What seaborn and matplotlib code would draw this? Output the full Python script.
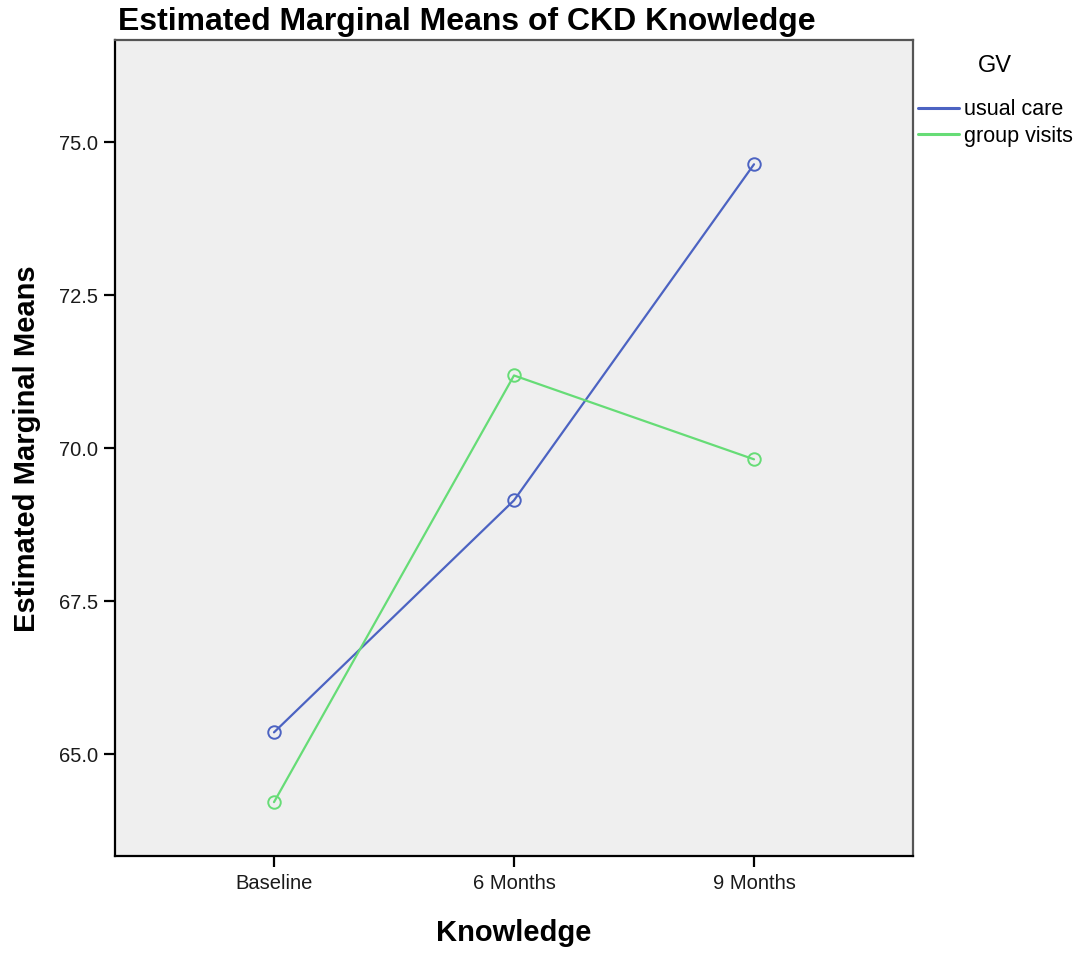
import pandas as pd
import matplotlib.pyplot as plt
import seaborn as sns
from matplotlib.lines import Line2D

# --- données ---
temps = ['Baseline', '6 Months', '9 Months']
groupes = ['usual care', 'group visits']
usual_care = [65.36, 69.15, 74.64]
group_visits = [64.22, 71.19, 69.82]
couleurs = ['#4c63c2', '#66dc76']

df = pd.DataFrame({
    'Knowledge': temps * 2,
    'Mean': usual_care + group_visits,
    'GV': [groupes[0]] * 3 + [groupes[1]] * 3,
})

sns.set_theme(style='white')
plt.rcParams['font.family'] = ['Liberation Sans', 'DejaVu Sans']
plt.rcParams['text.color'] = 'black'

W, H = 1081, 955
fig = plt.figure(figsize=(W / 100, H / 100), dpi=100)
ax = fig.add_axes([115 / W, 1 - 856 / H, (913 - 115) / W, (856 - 40) / H])
ax.set_facecolor('#efefef')

sns.lineplot(data=df, x='Knowledge', y='Mean', hue='GV', hue_order=groupes,
             palette=couleurs, sort=False, marker='o', markersize=9,
             linewidth=1.6, legend=False, ax=ax)

# cercles vides comme dans SPSS
for line in ax.lines:
    line.set_markerfacecolor('none')
    line.set_markeredgecolor(line.get_color())
    line.set_markeredgewidth(1.4)

ax.set_xlim(-0.6625, 2.6625)
ax.set_ylim(63.34, 76.67)
ax.set_yticks([65.0, 67.5, 70.0, 72.5, 75.0])
ax.set_yticklabels(['65.0', '67.5', '70.0', '72.5', '75.0'])
ax.tick_params(axis='both', direction='out', length=8, width=1.6, color='black',
               labelsize=14.5, labelcolor='#1a1a1a', left=True, bottom=True)
ax.tick_params(axis='y', pad=4)
ax.tick_params(axis='x', pad=5)
ax.set_xlabel('')
ax.set_ylabel('')

for side in ['left', 'bottom']:
    ax.spines[side].set_color('black')
    ax.spines[side].set_linewidth(1.6)
for side in ['top', 'right']:
    ax.spines[side].set_color('#555555')
    ax.spines[side].set_linewidth(1.6)

# titres
fig.text(118 / W, 1 - 30 / H, 'Estimated Marginal Means of CKD Knowledge',
         fontsize=23, fontweight='bold', ha='left', va='baseline')
fig.text(27 / W, 1 - 449 / H, 'Estimated Marginal Means', rotation=90,
         fontsize=21, fontweight='bold', ha='center', va='center')
fig.text(514 / W, 1 - 933 / H, 'Knowledge', fontsize=21, fontweight='bold',
         ha='center', va='center')

# légende
fig.text(995 / W, 1 - 66 / H, 'GV', fontsize=17, ha='center', va='center')
handles = [Line2D([0], [0], color=c, lw=2.2) for c in couleurs]
fig.legend(handles, groupes, loc='center left',
           bbox_to_anchor=(918 / W, 1 - 123 / H), frameon=False,
           borderaxespad=0, borderpad=0, handlelength=1.9, handletextpad=0.25,
           labelspacing=0.25, fontsize=15.5)

plt.savefig('out.png', dpi=100)
